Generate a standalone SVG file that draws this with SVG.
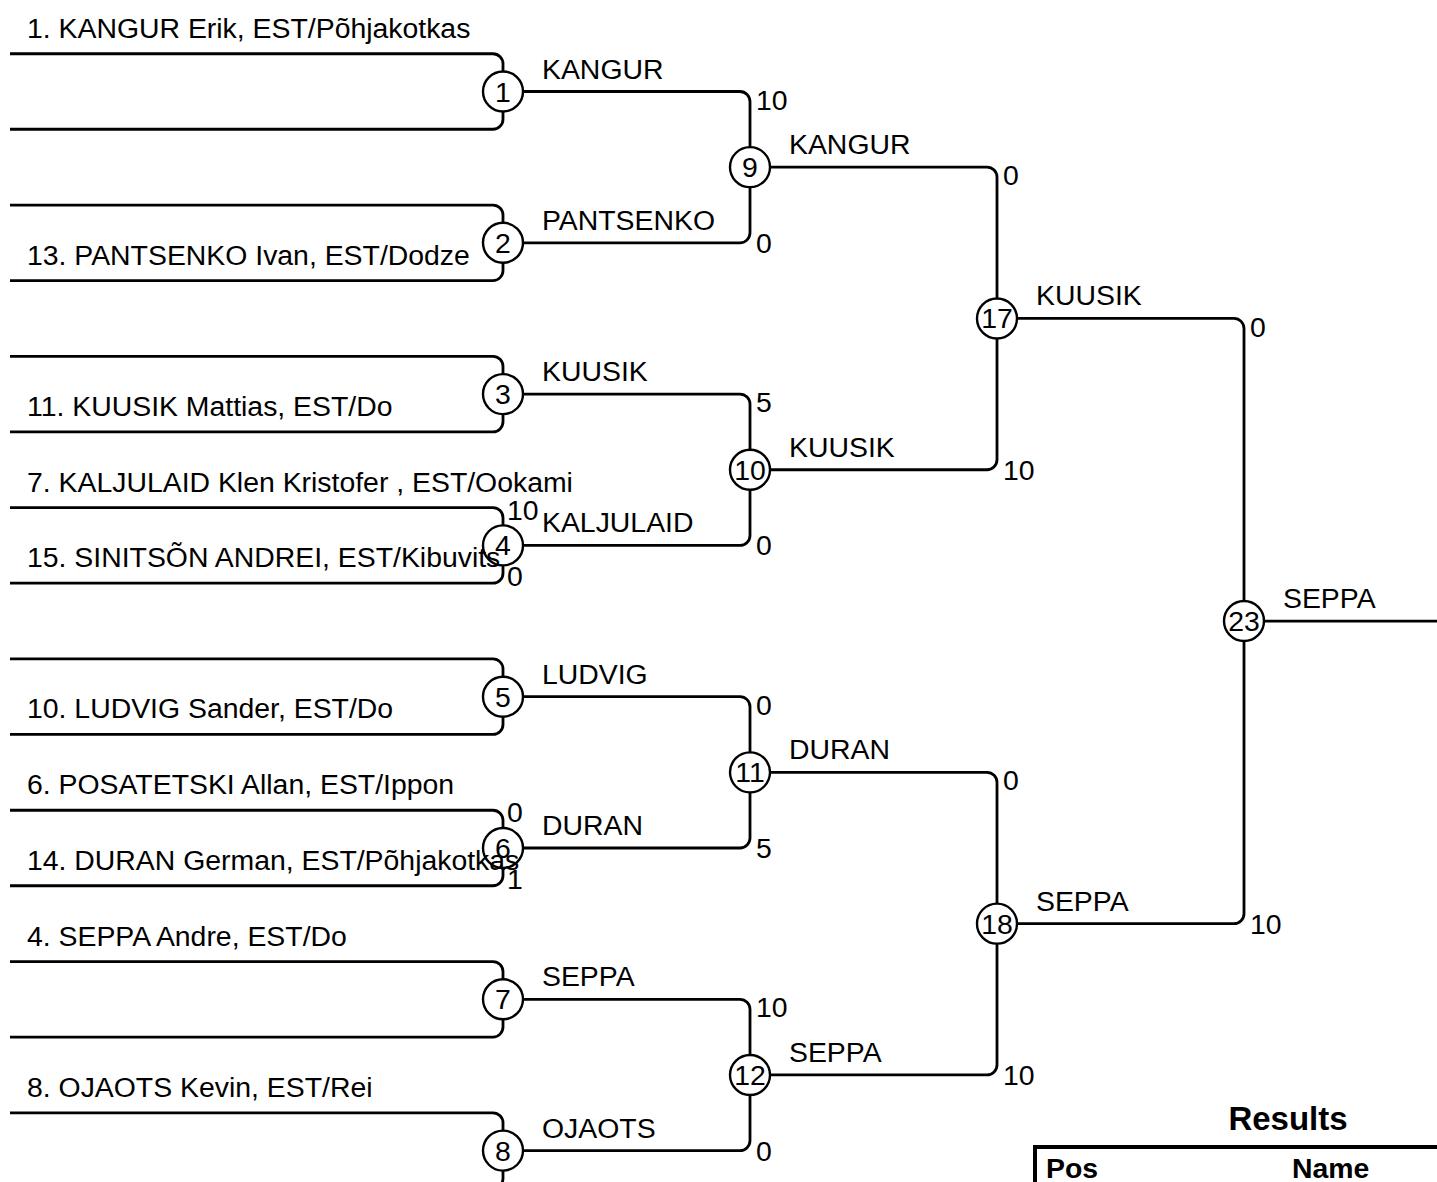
<svg xmlns="http://www.w3.org/2000/svg" width="1437" height="1182" viewBox="0 0 1437 1182">
<style>
text{font-family:"Liberation Sans",Arial,Helvetica,sans-serif;font-size:28.4px;fill:#000}
.c{fill:none;stroke:#000;stroke-width:2.4}
.n{text-anchor:middle}
.w{stroke:#000;stroke-width:2.8;fill:none}
.b{font-weight:bold}
</style>
<rect width="1437" height="1182" fill="#fff"/>
<g id="connectors" class="w">
<path d="M10 53.75H493A10 10 0 0 1 503 63.75V71.5M10 129.25H493A10 10 0 0 0 503 119.25V111.5"/>
<path d="M10 205.05H493A10 10 0 0 1 503 215.05V222.8M10 280.55H493A10 10 0 0 0 503 270.55V262.8"/>
<path d="M10 356.35H493A10 10 0 0 1 503 366.35V374.1M10 431.85H493A10 10 0 0 0 503 421.85V414.1"/>
<path d="M10 507.65H493A10 10 0 0 1 503 517.65V525.4M10 583.15H493A10 10 0 0 0 503 573.15V565.4"/>
<path d="M10 658.95H493A10 10 0 0 1 503 668.95V676.7M10 734.45H493A10 10 0 0 0 503 724.45V716.7"/>
<path d="M10 810.25H493A10 10 0 0 1 503 820.25V828M10 885.75H493A10 10 0 0 0 503 875.75V868"/>
<path d="M10 961.55H493A10 10 0 0 1 503 971.55V979.3M10 1037.05H493A10 10 0 0 0 503 1027.05V1019.3"/>
<path d="M10 1112.85H493A10 10 0 0 1 503 1122.85V1130.6M10 1188.35H493A10 10 0 0 0 503 1178.35V1170.6"/>
<path d="M523 91.5H740A10 10 0 0 1 750 101.5V147.15M523 242.8H740A10 10 0 0 0 750 232.8V187.15"/>
<path d="M523 394.1H740A10 10 0 0 1 750 404.1V449.75M523 545.4H740A10 10 0 0 0 750 535.4V489.75"/>
<path d="M523 696.7H740A10 10 0 0 1 750 706.7V752.35M523 848H740A10 10 0 0 0 750 838V792.35"/>
<path d="M523 999.3H740A10 10 0 0 1 750 1009.3V1054.95M523 1150.6H740A10 10 0 0 0 750 1140.6V1094.95"/>
<path d="M770 167.15H987A10 10 0 0 1 997 177.15V298.45M770 469.75H987A10 10 0 0 0 997 459.75V338.45"/>
<path d="M770 772.35H987A10 10 0 0 1 997 782.35V903.65M770 1074.95H987A10 10 0 0 0 997 1064.95V943.65"/>
<path d="M1017 318.45H1234A10 10 0 0 1 1244 328.45V601.05M1017 923.65H1234A10 10 0 0 0 1244 913.65V641.05"/>
<path d="M1264 621.05H1437"/>
</g>
<g id="scores">
<text x="507" y="519.65">10</text><text x="507" y="586">0</text>
<text x="507" y="822.25">0</text><text x="507" y="888.75">1</text>
<text x="756" y="109.5">10</text><text x="756" y="252.8">0</text>
<text x="756" y="412">5</text><text x="756" y="555.4">0</text>
<text x="756" y="714.7">0</text><text x="756" y="858">5</text>
<text x="756" y="1017.3">10</text><text x="756" y="1160.6">0</text>
<text x="1003" y="185">0</text><text x="1003" y="479.75">10</text>
<text x="1003" y="790">0</text><text x="1003" y="1085">10</text>
<text x="1250" y="336.5">0</text><text x="1250" y="933.65">10</text>
</g>
<g id="entrants">
<text x="27" y="37.75">1. KANGUR Erik, EST/Põhjakotkas</text>
<text x="27" y="264.5">13. PANTSENKO Ivan, EST/Dodze</text>
<text x="27" y="415.85">11. KUUSIK Mattias, EST/Do</text>
<text x="27" y="491.65">7. KALJULAID Klen Kristofer , EST/Ookami</text>
<text x="27" y="567">15. SINITSÕN ANDREI, EST/Kibuvits</text>
<text x="27" y="718.45">10. LUDVIG Sander, EST/Do</text>
<text x="27" y="794.25">6. POSATETSKI Allan, EST/Ippon</text>
<text x="27" y="869.75">14. DURAN German, EST/Põhjakotkas</text>
<text x="27" y="945.55">4. SEPPA Andre, EST/Do</text>
<text x="27" y="1096.85">8. OJAOTS Kevin, EST/Rei</text>
</g>
<g id="m1"><circle class="c" cx="503" cy="91.5" r="20"/><text class="n" x="503" y="101.5">1</text><text x="542" y="78.5">KANGUR</text></g>
<g id="m2"><circle class="c" cx="503" cy="242.8" r="20"/><text class="n" x="503" y="252.8">2</text><text x="542" y="229.8">PANTSENKO</text></g>
<g id="m3"><circle class="c" cx="503" cy="394.1" r="20"/><text class="n" x="503" y="404.1">3</text><text x="542" y="381.1">KUUSIK</text></g>
<g id="m4"><circle class="c" cx="503" cy="545.4" r="20"/><text class="n" x="503" y="555.4">4</text><text x="542" y="532.4">KALJULAID</text></g>
<g id="m5"><circle class="c" cx="503" cy="696.7" r="20"/><text class="n" x="503" y="706.7">5</text><text x="542" y="683.7">LUDVIG</text></g>
<g id="m6"><circle class="c" cx="503" cy="848" r="20"/><text class="n" x="503" y="858">6</text><text x="542" y="835">DURAN</text></g>
<g id="m7"><circle class="c" cx="503" cy="999.3" r="20"/><text class="n" x="503" y="1009.3">7</text><text x="542" y="986.3">SEPPA</text></g>
<g id="m8"><circle class="c" cx="503" cy="1150.6" r="20"/><text class="n" x="503" y="1160.6">8</text><text x="542" y="1137.6">OJAOTS</text></g>
<g id="m9"><circle class="c" cx="750" cy="167.15" r="20"/><text class="n" x="750" y="177.15">9</text><text x="789" y="154">KANGUR</text></g>
<g id="m10"><circle class="c" cx="750" cy="469.75" r="20"/><text class="n" x="750" y="479.75">10</text><text x="789" y="456.75">KUUSIK</text></g>
<g id="m11"><circle class="c" cx="750" cy="772.35" r="20"/><text class="n" x="750" y="782.35">11</text><text x="789" y="759.35">DURAN</text></g>
<g id="m12"><circle class="c" cx="750" cy="1074.95" r="20"/><text class="n" x="750" y="1084.95">12</text><text x="789" y="1061.95">SEPPA</text></g>
<g id="m17"><circle class="c" cx="997" cy="318.45" r="20"/><text class="n" x="997" y="328.45">17</text><text x="1036" y="305.45">KUUSIK</text></g>
<g id="m18"><circle class="c" cx="997" cy="923.65" r="20"/><text class="n" x="997" y="933.65">18</text><text x="1036" y="910.65">SEPPA</text></g>
<g id="m23"><circle class="c" cx="1244" cy="621.05" r="20"/><text class="n" x="1244" y="631.05">23</text><text x="1283" y="608">SEPPA</text></g>
<g id="results">
<text class="b n" x="1288" y="1130" style="font-size:33px">Results</text>
<path d="M1035 1182V1147H1437" fill="none" stroke="#000" stroke-width="4"/>
<text class="b" x="1046" y="1178">Pos</text>
<text class="b" x="1292" y="1178">Name</text>
</g>
</svg>
